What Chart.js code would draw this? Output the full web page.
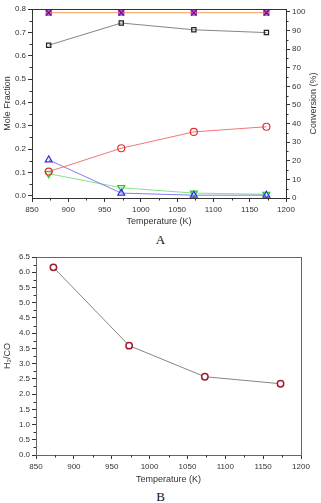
<!DOCTYPE html>
<html>
<head>
<meta charset="utf-8">
<script src="https://cdn.jsdelivr.net/npm/chart.js@4.4.1/dist/chart.umd.min.js"></script>
<style>
  html,body{margin:0;padding:0;background:#fff;}
  body{width:321px;height:503px;position:relative;overflow:hidden;}
  .box{position:absolute;left:0;width:321px;}
  .cap{position:absolute;left:0;width:321px;text-align:center;font-family:"Liberation Serif","DejaVu Serif",serif;font-size:13px;color:#111;}
</style>
</head>
<body>
<div class="box" style="top:0;height:230px"><canvas id="chartA"></canvas></div>
<div class="cap" style="top:232px">A</div>
<div class="box" style="top:245px;height:243px"><canvas id="chartB"></canvas></div>
<div class="cap" style="top:489px">B</div>
<script>
// values
const temps = [873, 973, 1073, 1173];
const fracH2 = [0.645, 0.740, 0.711, 0.699];
const fracCO = [0.104, 0.204, 0.274, 0.296];
const fracCO2 = [0.154, 0.012, 0.003, 0.003];
const fracCH4 = [0.095, 0.035, 0.012, 0.007];
const convCH4 = [99.6, 99.6, 99.6, 99.6];
const convCO2 = [99.6, 99.6, 99.6, 99.6];
const ratioH2CO = [6.16, 3.59, 2.57, 2.34];

// tick labels
const tempTicks = [850, 900, 950, 1000, 1050, 1100, 1150, 1200];
const fracTicks = [0, 0.1, 0.2, 0.3, 0.4, 0.5, 0.6, 0.7, 0.8];
const convTicks = [0, 10, 20, 30, 40, 50, 60, 70, 80, 90, 100];
const ratioTicks = [0, 0.5, 1, 1.5, 2, 2.5, 3, 3.5, 4, 4.5, 5, 5.5, 6, 6.5];

const pts = (ys) => ys.map((y,i)=>({x:temps[i], y}));
const FONT = {family:'"Liberation Sans", Arial, sans-serif', size:8};
const TFONT = {family:FONT.family, size:9};
const TXT = '#333';

// box round the plot, small minor ticks half way between the major ones,
// and the right-hand title written bottom-to-top like the left one
const frame = {
  id:'frame',
  afterDraw(chart, args, opts){
    const {ctx, chartArea:a} = chart;
    ctx.save();
    ctx.strokeStyle = opts.color || '#333';
    ctx.lineWidth = 1;
    ctx.strokeRect(Math.round(a.left)+0.5, Math.round(a.top)+0.5, Math.round(a.right-a.left), Math.round(a.bottom-a.top));
    ctx.strokeStyle = '#333';
    (opts.minor||[]).forEach(id=>{
      const s = chart.scales[id]; if(!s) return;
      const t = s.ticks;
      for(let i=0;i<t.length-1;i++){
        const p = Math.round(s.getPixelForValue((t[i].value+t[i+1].value)/2))+0.5;
        ctx.beginPath();
        if(s.position==='bottom'){ ctx.moveTo(p, a.bottom); ctx.lineTo(p, a.bottom+2.5); }
        else if(s.position==='left'){ ctx.moveTo(a.left, p); ctx.lineTo(a.left-2.5, p); }
        else { ctx.moveTo(a.right, p); ctx.lineTo(a.right+2.5, p); }
        ctx.stroke();
      }
    });
    if(opts.rightTitle){
      const s = chart.scales.y1;
      ctx.translate(s.right-7, (a.top+a.bottom)/2);
      ctx.rotate(-Math.PI/2);
      ctx.font = TFONT.size+'px '+TFONT.family;
      ctx.fillStyle = TXT;
      ctx.textAlign = 'center';
      ctx.textBaseline = 'middle';
      ctx.fillText(opts.rightTitle, 0, 0);
    }
    ctx.restore();
  }
};

const useTicks = (list) => (s) => { s.ticks = list.map(v=>({value:v})); };

function axis(pos, o){
  return {
    type:'linear', position:pos, min:o.min, max:o.max,
    grid:{display:true, drawOnChartArea:false, drawTicks:true, tickLength:4, color:'#333', tickColor:'#333'},
    border:{display:true, color:'#333', width:1},
    ticks:{font:FONT, color:TXT, padding:pos==='bottom'?3:2, maxRotation:0, autoSkip:false,
      callback:o.fmt || ((v)=>String(v))},
    title:{display:!!o.title, text:o.title, font:TFONT, color:TXT, padding:{top:2,bottom:pos==='bottom'?3:2}},
    afterBuildTicks:useTicks(o.ticks),
    afterFit:(s)=>{ if(pos==='bottom') s.height=o.size; else s.width=o.size; }
  };
}
function serie(label, ys, col, line, style, r, axisId){
  return {label, data:pts(ys), borderColor:line, backgroundColor:'rgba(255,255,255,0)',
    pointBorderColor:col, pointBackgroundColor:'rgba(255,255,255,0)', pointStyle:style,
    pointRadius:r, pointHoverRadius:r, pointBorderWidth:1.2, borderWidth:0.9, showLine:true, tension:0,
    yAxisID:axisId||'y'};
}
const fix1 = (v)=>Number(v).toFixed(1);

new Chart(document.getElementById('chartA'), {
  type:'scatter',
  data:{datasets:[
    Object.assign(serie('CO2 conversion', convCO2, '#6a1478', 'rgba(0,0,0,0)', 'crossRot', 3.8, 'y1'),
      {showLine:false, pointBorderWidth:1.4}),
    Object.assign(serie('CH4 conversion', convCH4, '#c03cc8', '#f5b27a', 'rect', 3.6, 'y1'),
      {pointBackgroundColor:'#e68ae6', borderWidth:1.3}),
    serie('H2', fracH2, '#222', '#777', 'rect', 3),
    serie('CO', fracCO, '#e03030', '#ee6666', 'circle', 3.5),
    serie('CO2', fracCO2, '#3030e0', '#7070ee', 'triangle', 4),
    Object.assign(serie('CH4', fracCH4, '#22cc22', '#77e077', 'triangle', 4), {pointRotation:180})
  ]},
  options:{
    responsive:true, maintainAspectRatio:false, animation:false,
    layout:{padding:{top:9, left:0, right:0, bottom:0}},
    plugins:{legend:{display:false}, tooltip:{enabled:false}, frame:{minor:['x','y','y1'], rightTitle:'Conversion (%)'}},
    scales:{
      x:axis('bottom', {min:850, max:1200, ticks:tempTicks, title:'Temperature (K)', size:32}),
      y:axis('left', {min:-0.009, max:0.8, ticks:fracTicks, title:'Mole Fraction', size:32, fmt:fix1}),
      y1:axis('right', {min:0, max:101.6, ticks:convTicks, size:35})
    }
  },
  plugins:[frame]
});

new Chart(document.getElementById('chartB'), {
  type:'scatter',
  data:{datasets:[
    Object.assign(serie('H2/CO', ratioH2CO, '#a01c2c', '#777', 'circle', 3.2), {pointBorderWidth:1.5, pointBackgroundColor:'#fff'})
  ]},
  options:{
    responsive:true, maintainAspectRatio:false, animation:false,
    layout:{padding:{top:12, left:0, right:20, bottom:0}},
    plugins:{legend:{display:false}, tooltip:{enabled:false}, frame:{minor:['x','y'], color:'#666'}},
    scales:{
      x:axis('bottom', {min:850, max:1200, ticks:tempTicks, title:'Temperature (K)', size:33}),
      y:axis('left', {min:0, max:6.5, ticks:ratioTicks, title:'H₂/CO', size:36, fmt:fix1})
    }
  },
  plugins:[frame]
});
</script>
</body>
</html>
